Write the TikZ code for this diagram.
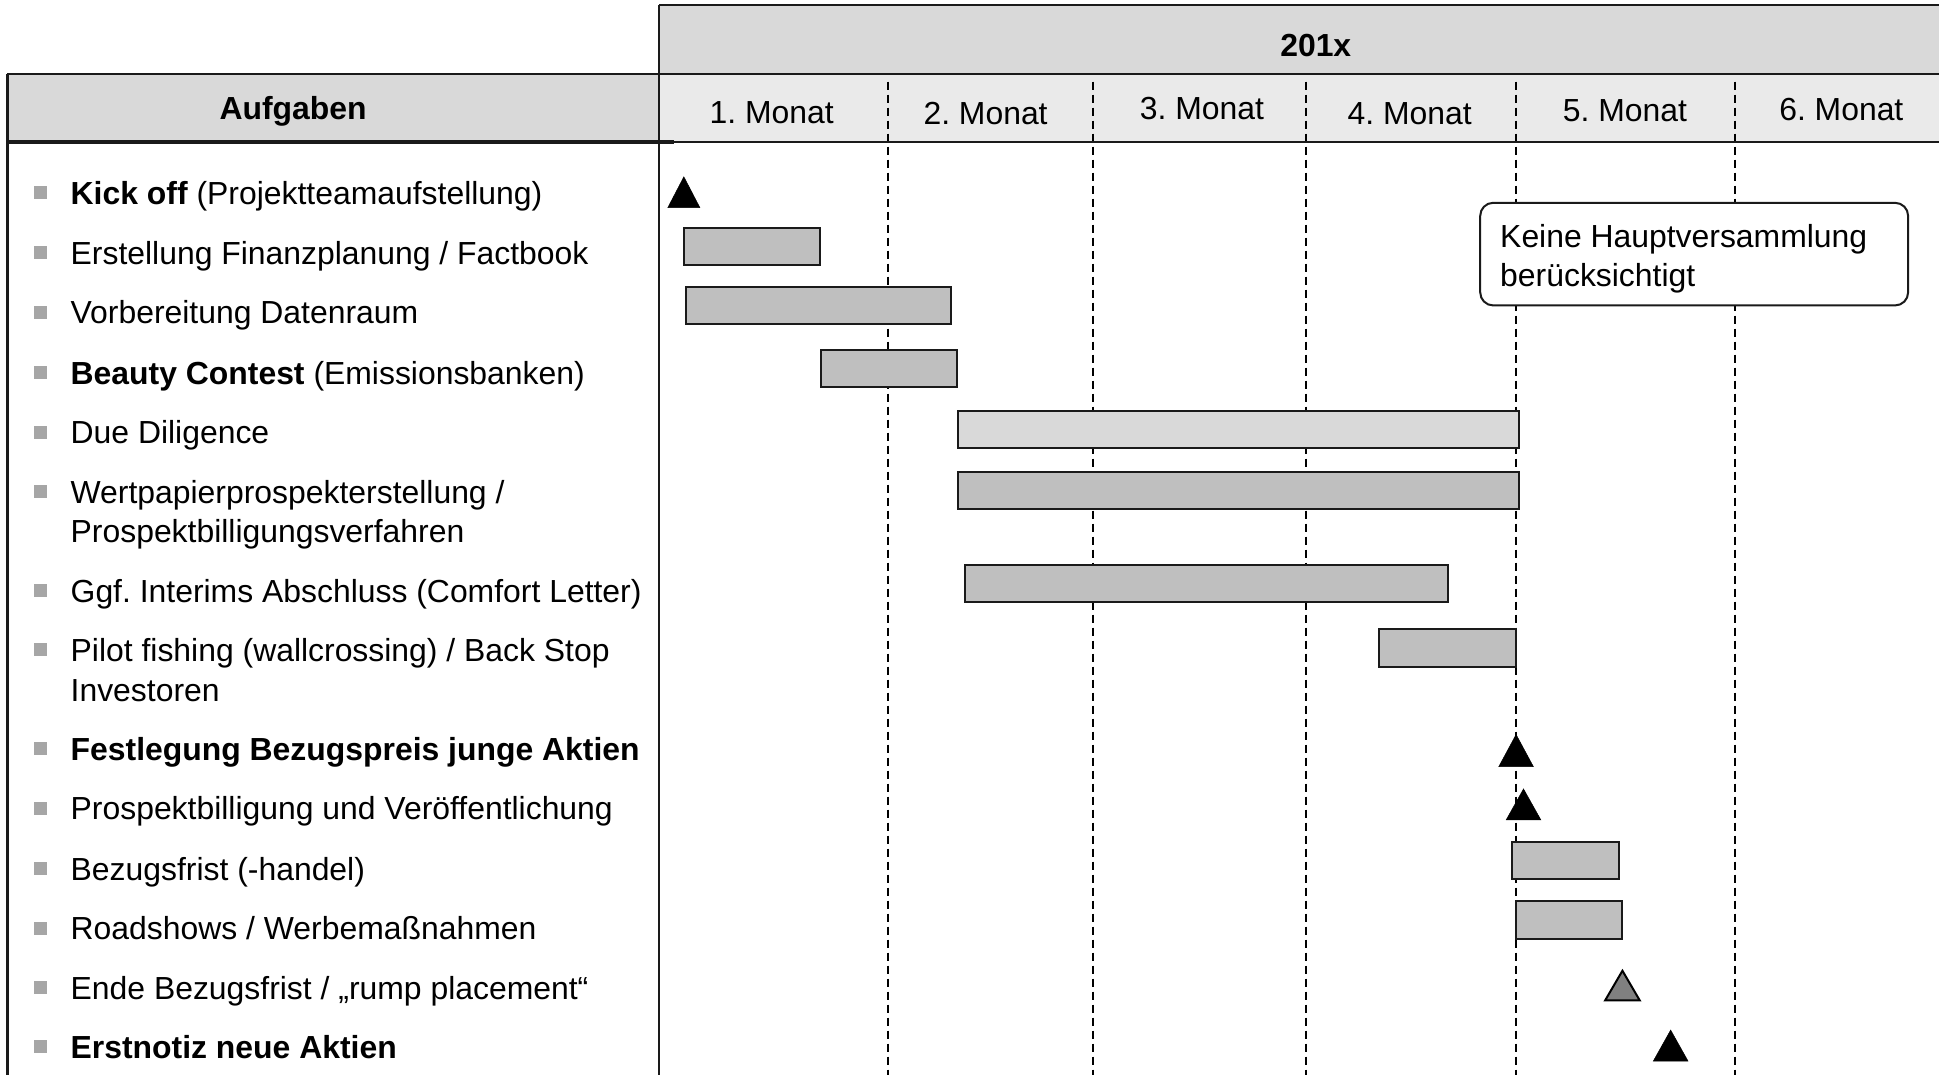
\documentclass[tikz,border=0pt]{standalone}
\usepackage{fontspec}
\setmainfont{Liberation Sans}
\frenchspacing
\usetikzlibrary{fit}
\definecolor{hdr}{HTML}{D9D9D9}
\definecolor{mon}{HTML}{EAEAEA}
\definecolor{barc}{HTML}{BFBFBF}
\definecolor{barl}{HTML}{D9D9D9}
\definecolor{bul}{HTML}{A6A6A6}
\definecolor{ln}{HTML}{1A1A1A}
\definecolor{tri}{HTML}{808080}
\tikzset{
 txt/.style={anchor=base west, inner sep=0pt, font=\fontsize{31.9}{39.6}\selectfont},
 ctr/.style={anchor=base, inner sep=0pt, font=\fontsize{31.9}{39.6}\selectfont},
 bulletbox/.style={fill=bul, draw=none, minimum size=13pt, inner sep=0pt},
 barbox/.style={fill=barc, draw=ln, line width=2pt, inner sep=0pt},
 lightbar/.style={barbox, fill=barl},
 mstone/.style={fill=black, draw=black, line width=0.5pt},
 greystone/.style={fill=tri, draw=black, line width=2pt},
 gridline/.style={dash pattern=on 8pt off 5pt, line width=1.5pt},
 frameline/.style={draw=ln, line width=2.5pt},
 callout/.style={fill=white, draw=ln, line width=2pt, rounded corners=13pt, inner sep=0pt}
}
\begin{document}
\begin{tikzpicture}[x=1.2366pt, y=-1.2366pt]
\useasboundingbox (0,0) rectangle (1568,869);
% header fills
\fill[hdr] (533,4) rectangle (1568,60);
\fill[mon] (533,60) rectangle (1568,115);
\fill[hdr] (6,60) rectangle (533,115);
% month grid
\foreach \gx in {718,884,1056,1226,1403}
  \draw[gridline] (\gx,66) -- (\gx,869);
% frame lines
\draw[frameline] (533,4) -- (1568,4);
\draw[frameline] (6,60) -- (1568,60);
\draw[frameline] (533,115) -- (1568,115);
\draw[draw=ln, line width=3.5pt] (6,115) -- (545,115);
\draw[frameline] (6,60) -- (6,869);
\draw[frameline] (533,4) -- (533,869);
% header texts
\node[ctr, font=\fontsize{31.9}{39.6}\selectfont\bfseries] (year) at (1064,46) {201x};
\node[ctr, font=\fontsize{31.9}{39.6}\selectfont\bfseries] (aufg) at (237,97) {Aufgaben};
\node[ctr] (m1) at (624,99.6) {1. Monat};
\node[ctr] (m2) at (797,100.3) {2. Monat};
\node[ctr] (m3) at (972,97) {3. Monat};
\node[ctr] (m4) at (1140,101) {4. Monat};
\node[ctr] (m5) at (1314,98.5) {5. Monat};
\node[ctr] (m6) at (1489,97.6) {6. Monat};
% task list
\foreach \by [count=\i] in {165,214,262,311,359,407,487,535,615,663,712,760,808,856}
  \node[bulletbox] (bu\i) at (33,\by-9.5) {};
\node[txt] (t1) at (57,165) {\textbf{Kick off} (Projektteamaufstellung)};
\node[txt] (t2) at (57,214) {Erstellung Finanzplanung / Factbook};
\node[txt] (t3) at (57,262) {Vorbereitung Datenraum};
\node[txt] (t4) at (57,311) {\textbf{Beauty Contest} (Emissionsbanken)};
\node[txt] (t5) at (57,359) {Due Diligence};
\node[txt] (t6a) at (57,407) {Wertpapierprospekterstellung /};
\node[txt] (t6b) at (57,439) {Prospektbilligungsverfahren};
\node[txt] (t7) at (57,487) {Ggf. Interims Abschluss (Comfort Letter)};
\node[txt] (t8a) at (57,535) {Pilot fishing (wallcrossing) / Back Stop};
\node[txt] (t8b) at (57,567) {Investoren};
\node[txt] (t9) at (57,615) {\textbf{Festlegung Bezugspreis junge Aktien}};
\node[txt] (t10) at (57,663) {Prospektbilligung und Veröffentlichung};
\node[txt] (t11) at (57,712) {Bezugsfrist (-handel)};
\node[txt] (t12) at (57,760) {Roadshows / Werbemaßnahmen};
\node[txt] (t13) at (57,808) {Ende Bezugsfrist / „rump placement“};
\node[txt] (t14) at (57,856) {\textbf{Erstnotiz neue Aktien}};
% bars
\node[barbox, fit={(553,184)(663,214)}] (b2) {};
\node[barbox, fit={(555,232)(769,262)}] (b3) {};
\node[barbox, fit={(664,283)(774,313)}] (b4) {};
\node[lightbar, fit={(775,332)(1228,362)}] (b5) {};
\node[barbox, fit={(775,382)(1228,412)}] (b6) {};
\node[barbox, fit={(780,457)(1171,487)}] (b7) {};
\node[barbox, fit={(1115,509)(1226,539)}] (b8) {};
\node[barbox, fit={(1223,681)(1309,711)}] (b11) {};
\node[barbox, fit={(1226,729)(1312,759)}] (b12) {};
% milestones
\draw[mstone] (540,168) -- (553,143) -- (566,168) -- cycle;
\draw[mstone] (1212,620) -- (1226,594) -- (1240,620) -- cycle;
\draw[mstone] (1218,663) -- (1232,638) -- (1246,663) -- cycle;
\draw[greystone] (1298,809) -- (1312,785) -- (1326,809) -- cycle;
\draw[mstone] (1337,858) -- (1351,833) -- (1365,858) -- cycle;
% callout
\node[callout, fit={(1197,164)(1543,247)}] (note) {};
\node[txt] (n1) at (1213,200) {Keine Hauptversammlung};
\node[txt] (n2) at (1213,232) {berücksichtigt};
\end{tikzpicture}
\end{document}
